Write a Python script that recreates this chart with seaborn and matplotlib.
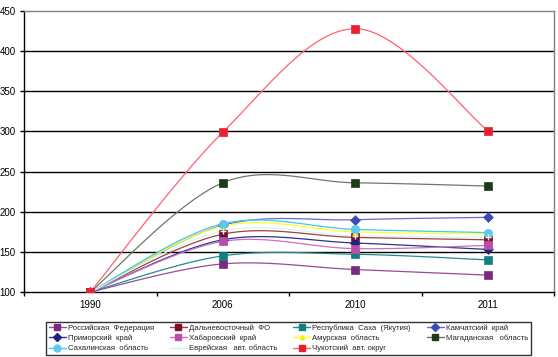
import numpy as np
import pandas as pd
import matplotlib
matplotlib.use("Agg")
import matplotlib.pyplot as plt
from matplotlib.lines import Line2D
import seaborn as sns

years = ["1990", "2006", "2010", "2011"]

russia     = [100, 135, 128, 121]
dfo        = [100, 172, 168, 165]
yakutia    = [100, 145, 147, 140]
kamchatka  = [100, 183, 190, 193]
primorsky  = [100, 165, 161, 153]
khabarovsk = [100, 163, 154, 158]
amur       = [100, 182, 175, 172]
magadan    = [100, 236, 236, 232]
sakhalin   = [100, 185, 178, 174]
evrey      = [100, 176, 170, 168]
chukotka   = [100, 299, 428, 301]

names = ["Российская  Федерация", "Дальневосточный  ФО", "Республика  Саха  (Якутия)",
         "Камчатский  край", "Приморский  край", "Хабаровский  край",
         "Амурская  область", "Магаданская   область", "Сахалинская  область",
         "Еврейская   авт. область", "Чукотский  авт. округ"]
series = [russia, dfo, yakutia, kamchatka, primorsky, khabarovsk, amur, magadan,
          sakhalin, evrey, chukotka]
line_colors = ["#9a4a9a", "#a04040", "#2a8a8a", "#6a6ad0", "#303090", "#cc70c0",
               "#ffff20", "#6a7a6a", "#40c8f0", "#d8f4f4", "#ff6070"]
marker_colors = ["#7a2a80", "#7a1020", "#108080", "#3a4ab8", "#202080", "#b850a8",
                 "#f0f000", "#1a3a1a", "#60c8f0", "#d8f4f4", "#e82030"]
markers = ["s", "s", "s", "D", "D", "s", "^", "s", "o", "+", "s"]
msizes = [6, 6, 6, 5, 5, 6, 4, 6, 6, 5, 6]

rows = []
for n, s in zip(names, series):
    for i, v in enumerate(s):
        rows.append({"series": n, "idx": i, "year": years[i], "value": v})
df = pd.DataFrame(rows)


def excel_smooth(xs, ys, n=40):
    P = np.column_stack([xs, ys]).astype(float)
    out = []
    m = len(P)
    for i in range(m - 1):
        p0 = P[max(i - 1, 0)]
        p1 = P[i]
        p2 = P[i + 1]
        p3 = P[min(i + 2, m - 1)]
        c1 = p1 + (p2 - p0) / 6.0
        c2 = p2 - (p3 - p1) / 6.0
        t = np.linspace(0, 1, n)[:, None]
        seg = ((1 - t) ** 3) * p1 + 3 * ((1 - t) ** 2) * t * c1 + 3 * (1 - t) * t ** 2 * c2 + t ** 3 * p2
        out.append(seg if i == 0 else seg[1:])
    return np.vstack(out)


sns.set_style("white")
plt.rcParams["font.family"] = ["Liberation Sans", "DejaVu Sans"]

fig = plt.figure(figsize=(5.58, 3.57), dpi=100)
ax = fig.add_axes([24 / 558, 1 - 292 / 357, 530 / 558, 281 / 357])

smooth_rows = []
for n in names:
    sub = df[df["series"] == n]
    pts = excel_smooth(sub["idx"].values, sub["value"].values)
    for x, y in pts:
        smooth_rows.append({"series": n, "x": x, "y": y})
sdf = pd.DataFrame(smooth_rows)

for i, n in enumerate(names):
    sub = sdf[sdf["series"] == n]
    sns.lineplot(data=sub, x="x", y="y", ax=ax, color=line_colors[i], lw=0.9,
                 sort=False, estimator=None, legend=False, zorder=2)
for i, n in enumerate(names):
    sub = df[df["series"] == n]
    if markers[i] == "+":
        sns.scatterplot(data=sub, x="idx", y="value", ax=ax, marker="+", s=msizes[i] ** 2,
                        color=marker_colors[i], linewidth=1.0, legend=False, zorder=3)
    else:
        sns.scatterplot(data=sub, x="idx", y="value", ax=ax, marker=markers[i],
                        s=msizes[i] ** 2, color=marker_colors[i], edgecolor=marker_colors[i],
                        linewidth=0.5, legend=False, zorder=3)

ax.set_xlim(-0.5, 3.5)
ax.set_ylim(100, 450)
ax.set_yticks(np.arange(100, 451, 50))
ax.set_xticks(range(4))
ax.set_xticklabels(years)
ax.set_xticks([-0.5, 0.5, 1.5, 2.5, 3.5], minor=True)
ax.tick_params(axis="x", which="major", length=0, pad=6, labelsize=7, colors="black")
ax.tick_params(axis="x", which="minor", length=3, width=1, direction="out", color="black", bottom=True)
ax.tick_params(axis="y", length=3, width=1, direction="out", left=True, pad=3, labelsize=7, colors="black")
ax.set_xlabel("")
ax.set_ylabel("")
for v in range(150, 451, 50):
    if v < 450:
        ax.axhline(v, color="black", lw=1.0, zorder=1)
ax.spines["left"].set_color("black")
ax.spines["bottom"].set_color("black")
ax.spines["top"].set_color("#808080")
ax.spines["right"].set_color("#808080")
for s in ax.spines.values():
    s.set_linewidth(1.0)

# Legend (row-major order as in reference)
legend_order = [0, 4, 8, 1, 5, 9, 2, 6, 10, 3, 7]
handles = []
labels = []
for i in legend_order:
    h = Line2D([0], [0], color=line_colors[i], lw=1.0, marker=markers[i],
               markersize=msizes[i] - 1, markerfacecolor=marker_colors[i],
               markeredgecolor=marker_colors[i])
    handles.append(h)
    labels.append(names[i])
leg = fig.legend(handles, labels, ncol=4, loc="lower left",
                 bbox_to_anchor=(46 / 558, 2 / 357, 485 / 558, 38 / 357),
                 mode="expand", fontsize=5.6, frameon=True, fancybox=False,
                 handlelength=2.2, handletextpad=0.3, columnspacing=0.5,
                 labelspacing=0.35, borderpad=0.35, borderaxespad=0)
leg.get_frame().set_edgecolor("black")
leg.get_frame().set_linewidth(1.0)

fig.savefig("out.png", dpi=100)
